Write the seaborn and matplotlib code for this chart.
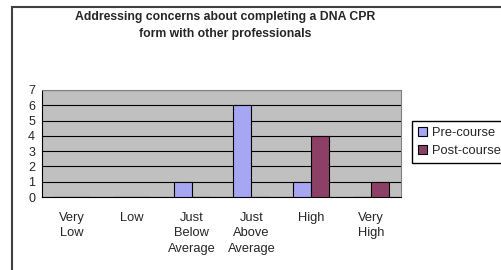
import pandas as pd
import matplotlib.pyplot as plt
import seaborn as sns
from matplotlib.patches import Rectangle

# Chart data
categories = ["Very\nLow", "Low", "Just\nBelow\nAverage", "Just\nAbove\nAverage", "High", "Very\nHigh"]
pre_course = [0, 0, 1, 6, 1, 0]
post_course = [0, 0, 0, 0, 4, 1]
series_names = ["Pre-course", "Post-course"]

data = pd.DataFrame({
    "category": categories * 2,
    "count": pre_course + post_course,
    "series": [series_names[0]] * len(categories) + [series_names[1]] * len(categories),
})

sns.set_style("white")
plt.rcParams['font.family'] = ['Liberation Sans', 'DejaVu Sans']

fig = plt.figure(figsize=(5.02, 2.70), dpi=100)
ax = fig.add_axes([42 / 502, 1 - 197 / 270, (401 - 42) / 502, (197 - 90) / 270])

# outer chart border
fig.patches.append(Rectangle((12 / 502, -0.2), 1.2, 1 - 7 / 270 + 0.2, transform=fig.transFigure,
                             fill=False, edgecolor="#404040", linewidth=1.5))

sns.barplot(data=data, x="category", y="count", hue="series",
            palette={"Pre-course": "#9999FF", "Post-course": "#993366"},
            width=0.6, edgecolor="black", linewidth=0.8, ax=ax, zorder=3)

ax.set_facecolor("#C0C0C0")
ax.set_ylim(0, 7)
ax.set_xlim(-0.5, 5.5)
ax.set_yticks(range(8))
ax.yaxis.grid(True, color="black", linewidth=0.8, zorder=0)
ax.set_axisbelow(True)
ax.set_xlabel("")
ax.set_ylabel("")

for side in ["top", "right"]:
    ax.spines[side].set_color("#808080")
    ax.spines[side].set_linewidth(0.8)
for side in ["left", "bottom"]:
    ax.spines[side].set_color("black")
    ax.spines[side].set_linewidth(0.8)

ax.set_xticks(range(len(categories)))
ax.set_xticklabels(categories, fontsize=9.3, linespacing=1.35, va="top")
ax.set_xticks([i - 0.5 for i in range(len(categories) + 1)], minor=True)
ax.tick_params(axis="x", which="major", length=0, pad=11)
ax.tick_params(axis="x", which="minor", length=3, width=0.8, color="black", direction="out")
ax.tick_params(axis="y", length=3, width=0.8, color="black", direction="out", labelsize=9, pad=2)

ax.legend(loc="center left", bbox_to_anchor=(412 / 502, 1 - 142 / 270), bbox_transform=fig.transFigure,
          borderaxespad=0, frameon=True, fancybox=False, edgecolor="black", framealpha=1, fontsize=9.3,
          handlelength=0.7, handleheight=0.7, handletextpad=0.4, borderpad=0.45, labelspacing=0.45)

fig.suptitle("Addressing concerns about completing a DNA CPR\nform with other professionals",
             x=225 / 502, y=1 - 11 / 270, va="top", fontsize=8.8, fontweight="bold", linespacing=1.5)

fig.savefig("out.png", dpi=100)
